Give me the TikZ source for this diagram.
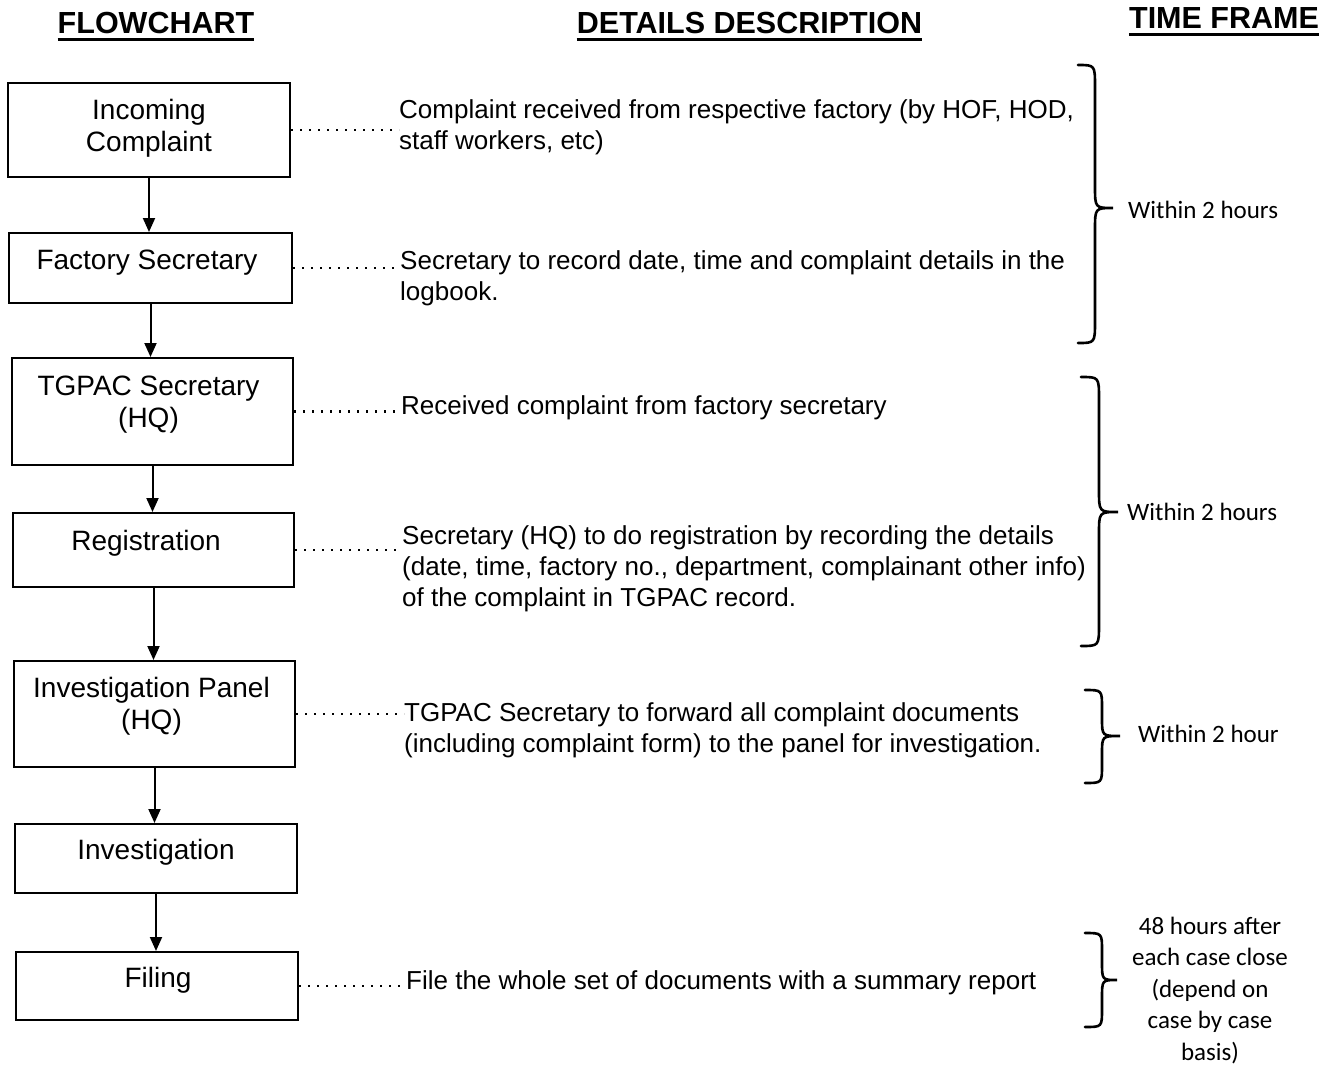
\documentclass[tikz,border=0pt]{standalone}
\usepackage{fontspec}
\setmainfont{Liberation Sans}
\newfontfamily\carl{Carlito}
\usetikzlibrary{arrows.meta}
\newcommand\myst{\rule{0pt}{24pt}}
\newcommand\tbrace[7]{%
\draw[brace] (#1,#2) .. controls (#3,#2) .. (#3,{#2+#7}) -- (#3,{#5-#7})
  .. controls (#3,#5) .. (#4,#5) .. controls (#3,#5) .. (#3,{#5+#7})
  -- (#3,{#6-#7}) .. controls (#3,#6) .. (#1,#6);}
\tikzset{
  box/.style={draw, line width=2pt, inner sep=0pt},
  btext/.style={font=\fontsize{28}{32}\selectfont, align=center, inner sep=0pt, anchor=north},
  dtext/.style={font=\fontsize{26}{31}\selectfont, align=left, inner sep=0pt, anchor=north west},
  ttext/.style={font=\carl\fontsize{25}{31.5}\selectfont, align=center, inner sep=0pt},
  head/.style={font=\bfseries\fontsize{30.5}{35}\selectfont, inner sep=0pt, anchor=base},
  uline/.style={line width=2.5pt},
  arr/.style={line width=2pt, -{Triangle[length=14pt,width=12pt]}},
  dots/.style={line width=2.2pt, dash pattern=on 2pt off 7pt},
  brace/.style={line width=2.6pt, line cap=round}
}
\begin{document}
\begin{tikzpicture}[x=1pt,y=-1pt]
\useasboundingbox (0,0) rectangle (1331,1066);
% headers
\node[head] (h1) at (156,33) {FLOWCHART};
\node[head] (h2) at (749.5,33) {DETAILS DESCRIPTION};
\node[head] (h3) at (1224,28) {TIME FRAME};
\foreach \h in {h1,h2,h3}{
  \draw[uline] ([yshift=-6.5pt]\h.base west) -- ([yshift=-6.5pt]\h.base east);
}
% boxes
\node[box, minimum width=282pt, minimum height=94pt] (b1) at (149,130) {};
\node[box, minimum width=283pt, minimum height=70pt] (b2) at (150.5,268) {};
\node[box, minimum width=281pt, minimum height=107pt] (b3) at (152.5,411.5) {};
\node[box, minimum width=281pt, minimum height=74pt] (b4) at (153.5,550) {};
\node[box, minimum width=281pt, minimum height=106pt] (b5) at (154.5,714) {};
\node[box, minimum width=282pt, minimum height=69pt] (b6) at (156,858.5) {};
\node[box, minimum width=282pt, minimum height=68pt] (b7) at (157,986) {};
% box texts
\node[btext] (t1) at (149,95) {\myst Incoming\\Complaint};
\node[btext] (t2) at (147,245) {\myst Factory Secretary};
\node[btext] (t3) at (148.5,371) {\myst TGPAC Secretary\\(HQ)};
\node[btext] (t4) at (146,526) {\myst Registration};
\node[btext] (t5) at (151.5,673) {\myst Investigation Panel\\(HQ)};
\node[btext] (t6) at (156,835) {\myst Investigation};
\node[btext] (t7) at (158,963) {\myst Filing};
% arrows
\draw[arr] (b1.south) -- (b1.south |- b2.north);
\draw[arr] (b2.south) -- (b2.south |- b3.north);
\draw[arr] (b3.south) -- (b3.south |- b4.north);
\draw[arr] (b4.south) -- (b4.south |- b5.north);
\draw[arr] (b5.south) -- (b5.south |- b6.north);
\draw[arr] (b6.south) -- (b6.south |- b7.north);
% descriptions
\node[dtext] (d1) at (399,94) {\myst Complaint received from respective factory (by HOF, HOD,\\staff workers, etc)};
\node[dtext] (d2) at (400,245) {\myst Secretary to record date, time and complaint details in the\\logbook.};
\node[dtext] (d3) at (401,390) {\myst Received complaint from factory secretary};
\node[dtext] (d4) at (402,520) {\myst Secretary (HQ) to do registration by recording the details\\(date, time, factory no., department, complainant other info)\\of the complaint in TGPAC record.};
\node[dtext] (d5) at (404,697) {\myst TGPAC Secretary to forward all complaint documents\\(including complaint form) to the panel for investigation.};
\node[dtext] (d6) at (406,965) {\myst File the whole set of documents with a summary report};
% dotted leaders
\draw[dots] (b1.east) -- (b1.east -| d1.west);
\draw[dots] (b2.east) -- (b2.east -| d2.west);
\draw[dots] (b3.east) -- (b3.east -| d3.west);
\draw[dots] (b4.east) -- (b4.east -| d4.west);
\draw[dots] (b5.east) -- (b5.east -| d5.west);
\draw[dots] (b7.east) -- (b7.east -| d6.west);
% braces
\tbrace{1078}{65}{1095}{1113}{208}{343}{22}
\tbrace{1081}{377}{1099}{1118}{512}{646}{22}
\tbrace{1085}{690}{1102}{1120}{736}{783}{18}
\tbrace{1085}{933}{1102}{1117}{980}{1027}{18}
% time frames
\node[ttext, anchor=base west] (f1) at (1128,218) {Within 2 hours};
\node[ttext, anchor=base west] (f2) at (1127,520) {Within 2 hours};
\node[ttext, anchor=base west] (f3) at (1138,742) {Within 2 hour};
\node[ttext, anchor=north] (f4) at (1210,910) {\myst 48 hours after\\each case close\\(depend on\\case by case\\basis)};
\end{tikzpicture}
\end{document}
